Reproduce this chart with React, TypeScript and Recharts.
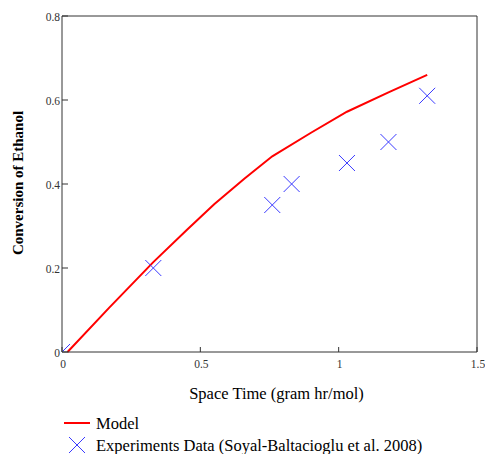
import React from "react";
import {
  ComposedChart,
  Line,
  Scatter,
  XAxis,
  YAxis,
  Legend,
  Label,
} from "recharts";

// model curve (space time vs conversion)
const modelTime = [0.02, 0.17, 0.33, 0.45, 0.55, 0.66, 0.76, 0.9, 1.03, 1.18, 1.32];
const modelConv = [0, 0.105, 0.214, 0.29, 0.352, 0.413, 0.466, 0.522, 0.572, 0.618, 0.66];

// experimental points
const expTime = [0, 0.33, 0.76, 0.83, 1.03, 1.18, 1.32];
const expConv = [0, 0.2, 0.35, 0.4, 0.45, 0.5, 0.61];

const xTicks = [0, 0.5, 1, 1.5];
const yTicks = [0, 0.2, 0.4, 0.6, 0.8];

const modelData = modelTime.map((t, i) => ({ t, y: modelConv[i] }));
const expData = expTime.map((t, i) => ({ t, y: expConv[i] }));

const FONT = "Liberation Serif, DejaVu Serif, serif";
const AXIS = "#333";
const TICK_TEXT = "#333";
const RED = "#ff0000";
const BLUE = "#3a3aff";

const fmt = (v: number) => String(v);

const BottomTick = (props: any) => {
  const { x, y, payload } = props;
  return (
    <g>
      <line x1={x} x2={x} y1={y} y2={y - 5} stroke={AXIS} />
      <text
        x={x + 1}
        y={y + 12}
        textAnchor="middle"
        dominantBaseline="central"
        style={{ fontSize: 11.5, fontFamily: FONT }}
        fill={TICK_TEXT}
      >
        {fmt(payload.value)}
      </text>
    </g>
  );
};

const LeftTick = (props: any) => {
  const { x, y, payload } = props;
  return (
    <g>
      <line x1={x} x2={x + 6} y1={y} y2={y} stroke={AXIS} />
      <text
        x={x - 2}
        y={y + 1}
        textAnchor="end"
        dominantBaseline="central"
        style={{ fontSize: 11.5, fontFamily: FONT }}
        fill={TICK_TEXT}
      >
        {fmt(payload.value)}
      </text>
    </g>
  );
};

const TopTick = (props: any) => {
  const { x, y } = props;
  return <line x1={x} x2={x} y1={y} y2={y + 5} stroke={AXIS} />;
};

const RightTick = (props: any) => {
  const { x, y } = props;
  return <line x1={x} x2={x - 6} y1={y} y2={y} stroke={AXIS} />;
};

const Cross = (props: any) => {
  const { cx, cy } = props;
  if (cx == null || cy == null) return <g />;
  const s = 8;
  return (
    <g clipPath="url(#plotClip)">
      <line x1={cx - s} y1={cy - s} x2={cx + s} y2={cy + s} stroke={BLUE} strokeWidth={1} />
      <line x1={cx - s} y1={cy + s} x2={cx + s} y2={cy - s} stroke={BLUE} strokeWidth={1} />
    </g>
  );
};

const LegendBox = () => (
  <svg width={420} height={44} style={{ display: "block" }}>
    <line x1={4} x2={30} y1={12} y2={12} stroke={RED} strokeWidth={2} />
    <text x={36} y={12} dominantBaseline="central" style={{ fontSize: 16.5, fontFamily: FONT }} fill="#000">
      Model
    </text>
    <line x1={9} y1={26} x2={25} y2={42} stroke={BLUE} strokeWidth={1} />
    <line x1={9} y1={42} x2={25} y2={26} stroke={BLUE} strokeWidth={1} />
    <text x={36} y={34} dominantBaseline="central" style={{ fontSize: 16.5, fontFamily: FONT }} fill="#000">
      Experiments Data (Soyal-Baltacioglu et al. 2008)
    </text>
  </svg>
);

const YTitle = (props: any) => {
  const vb = props.viewBox || {};
  const cx = 18;
  const cy = vb.y + vb.height / 2 - 1;
  return (
    <text
      x={cx}
      y={cy}
      transform={`rotate(-90, ${cx}, ${cy})`}
      textAnchor="middle"
      dominantBaseline="central"
      style={{ fontSize: 15, fontWeight: "bold", fontFamily: FONT }}
      fill="#000"
    >
      Conversion of Ethanol
    </text>
  );
};

export default function App() {
  return (
    <div style={{ position: "absolute", left: 0, top: 0, width: 485, height: 454, background: "#fff" }}>
      <ComposedChart
        width={485}
        height={454}
        margin={{ top: 0, right: 0, bottom: 55, left: 0 }}
      >
        <defs>
          <clipPath id="plotClip">
            <rect x={62} y={16} width={415} height={336} />
          </clipPath>
        </defs>
        <XAxis
          xAxisId="b"
          dataKey="t"
          type="number"
          domain={[0, 1.5]}
          ticks={xTicks}
          orientation="bottom"
          height={47}
          tickSize={0}
          tickMargin={0}
          tickLine={false}
          tick={<BottomTick />}
          axisLine={{ stroke: AXIS }}
          interval={0}
        >
          <Label
            value="Space Time (gram hr/mol)"
            position="insideBottom"
            offset={0}
            dx={7}
            style={{ fontSize: 16.5, fontFamily: FONT, fill: "#000" }}
          />
        </XAxis>
        <XAxis
          xAxisId="top"
          dataKey="t"
          type="number"
          domain={[0, 1.5]}
          ticks={[0.5, 1]}
          orientation="top"
          height={16}
          tickSize={0}
          tickMargin={0}
          tickLine={false}
          tick={<TopTick />}
          axisLine={{ stroke: AXIS }}
          interval={0}
        />
        <YAxis
          yAxisId="l"
          type="number"
          domain={[0, 0.8]}
          ticks={yTicks}
          orientation="left"
          width={62}
          tickSize={0}
          tickMargin={0}
          tickLine={false}
          tick={<LeftTick />}
          axisLine={{ stroke: AXIS }}
          interval={0}
        >
          <Label content={<YTitle />} />
        </YAxis>
        <YAxis
          yAxisId="r"
          type="number"
          domain={[0, 0.8]}
          ticks={[0.2, 0.4, 0.6]}
          orientation="right"
          width={8}
          tickSize={0}
          tickMargin={0}
          tickLine={false}
          tick={<RightTick />}
          axisLine={{ stroke: AXIS }}
          interval={0}
        />
        <Line
          xAxisId="b"
          yAxisId="l"
          data={modelData}
          dataKey="y"
          type="linear"
          stroke={RED}
          strokeWidth={2}
          dot={false}
          activeDot={false}
          isAnimationActive={false}
          name="Model"
        />
        <Scatter
          xAxisId="b"
          yAxisId="l"
          data={expData}
          dataKey="y"
          shape={<Cross />}
          isAnimationActive={false}
          name="Experiments Data"
        />
        <Legend
          layout="horizontal"
          verticalAlign="middle"
          align="center"
          content={<LegendBox />}
          wrapperStyle={{ position: "absolute", left: 60, top: 411, width: 420, height: 44 }}
        />
      </ComposedChart>
    </div>
  );
}
